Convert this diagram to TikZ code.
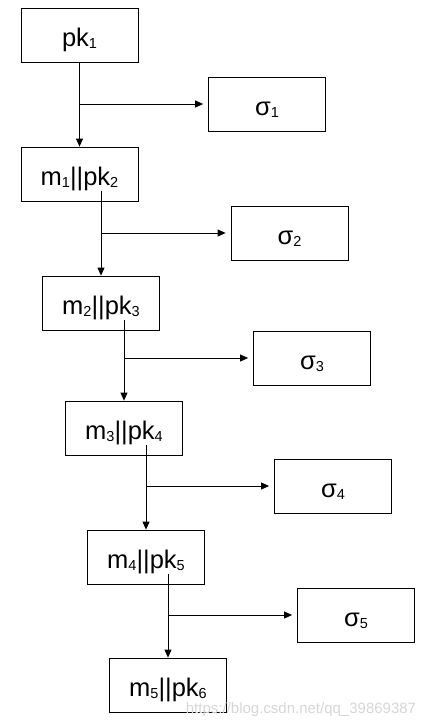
\documentclass[tikz,border=0pt]{standalone}
\usepackage{fontspec}
\setmainfont{Liberation Sans}
\usetikzlibrary{arrows.meta,calc}
\newcommand\sbs[1]{\raisebox{-2.5pt}{\fontsize{14.5}{14.5}\selectfont #1}}
\tikzset{
  box/.style={draw, line width=0.8pt, minimum width=117pt, minimum height=54pt, inner sep=0pt,
    text height=24pt, text depth=2pt, font=\fontsize{25.5}{28}\selectfont},
  arr/.style={line width=0.8pt, -{Triangle[length=8pt,width=7pt]}},
  side/.style={arr, shorten >=5pt}
}
\begin{document}
\begin{tikzpicture}[x=1pt,y=-1pt]
\useasboundingbox (0,0) rectangle (432,728);
\node[box] (pk1) at (79.5,35) {pk\sbs{1}};
\node[box] (s1) at (267,104) {σ\sbs{1}};
\node[box] (m1) at (79.5,174) {m\sbs{1}||pk\sbs{2}};
\node[box] (s2) at (289.5,233) {σ\sbs{2}};
\node[box] (m2) at (101,303) {m\sbs{2}||pk\sbs{3}};
\node[box] (s3) at (312,358) {σ\sbs{3}};
\node[box] (m3) at (124,428) {m\sbs{3}||pk\sbs{4}};
\node[box] (s4) at (333,486) {σ\sbs{4}};
\node[box] (m4) at (146,557) {m\sbs{4}||pk\sbs{5}};
\node[box] (s5) at (356,615) {σ\sbs{5}};
\node[box] (m5) at (168,685) {m\sbs{5}||pk\sbs{6}};
\coordinate (u1) at ([yshift=10pt]m1.south);
\coordinate (u2) at ([yshift=10pt]m2.south);
\coordinate (u3) at ([yshift=10pt]m3.south);
\coordinate (u4) at ([yshift=10pt]m4.south);
% stage 1
\draw[arr] (pk1.south) -- (m1.north);
\draw[side] (pk1.south |- s1.west) -- (s1.west);
% stage 2
\draw[arr] (u1 -| m2.north) -- (m2.north);
\draw[side] (m2.north |- s2.west) -- (s2.west);
% stage 3
\draw[arr] (u2 -| m3.north) -- (m3.north);
\draw[side] (m3.north |- s3.west) -- (s3.west);
% stage 4
\draw[arr] (u3 -| m4.north) -- (m4.north);
\draw[side] (m4.north |- s4.west) -- (s4.west);
% stage 5
\draw[arr] (u4 -| m5.north) -- (m5.north);
\draw[side] (m5.north |- s5.west) -- (s5.west);
\node[text=black!16, font=\fontsize{15}{15}\selectfont] (wm) at (301,710) {https://blog.csdn.net/qq\_39869387};
\end{tikzpicture}
\end{document}
